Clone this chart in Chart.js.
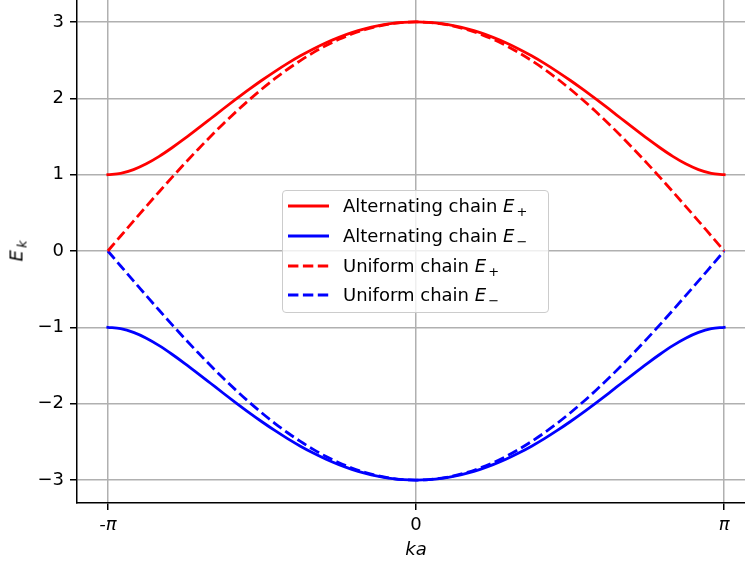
<!DOCTYPE html>
<html>
<head>
<meta charset="utf-8">
<script src="https://cdn.jsdelivr.net/npm/chart.js@4/dist/chart.umd.min.js"></script>
<style>
  html, body { margin: 0; padding: 0; background: #fff; }
  body { width: 745px; height: 567px; overflow: hidden; position: relative; font-family: 'DejaVu Sans', sans-serif; }
  #band { position: absolute; left: 0; top: -1px; }
  .ylab { position: absolute; left: 16px; top: 251px; transform: translate(-50%, -50%) rotate(-90deg); font-size: 18px; white-space: nowrap; }
  .legend { position: absolute; left: 282px; top: 190px; width: 265px; height: 121px; border: 1px solid #cccccc; border-radius: 4px; background: rgba(255,255,255,0.8); }
  .row { position: absolute; left: 0; height: 24px; font-size: 18px; line-height: 24px; white-space: nowrap; }
  .row svg { position: absolute; left: 5px; top: 10px; }
  .row span { position: absolute; left: 60px; top: 0; }
  sub { font-size: 13px; vertical-align: -4px; line-height: 0; margin-left: 2px; }
</style>
</head>
<body>
<canvas id="band" width="755" height="568"></canvas>
<div class="ylab"><i>E</i><sub><i>k</i></sub></div>
<div class="legend" id="legend"></div>
<script>
// ka in units of pi
var kaValues = [-1.0000, -0.9583, -0.9167, -0.8750, -0.8333, -0.7917, -0.7500, -0.7083, -0.6667, -0.6250, -0.5833, -0.5417,
  -0.5000, -0.4583, -0.4167, -0.3750, -0.3333, -0.2917, -0.2500, -0.2083, -0.1667, -0.1250, -0.0833, -0.0417,
  0.0000, 0.0417, 0.0833, 0.1250, 0.1667, 0.2083, 0.2500, 0.2917, 0.3333, 0.3750, 0.4167, 0.4583,
  0.5000, 0.5417, 0.5833, 0.6250, 0.6667, 0.7083, 0.7500, 0.7917, 0.8333, 0.8750, 0.9167, 0.9583, 1.0000];

var altUpper = [1.000, 1.017, 1.066, 1.142, 1.239, 1.352, 1.474, 1.602, 1.732, 1.863, 1.991, 2.116,
  2.236, 2.350, 2.457, 2.556, 2.646, 2.727, 2.798, 2.859, 2.909, 2.949, 2.977, 2.994,
  3.000, 2.994, 2.977, 2.949, 2.909, 2.859, 2.798, 2.727, 2.646, 2.556, 2.457, 2.350,
  2.236, 2.116, 1.991, 1.863, 1.732, 1.602, 1.474, 1.352, 1.239, 1.142, 1.066, 1.017, 1.000];
var altLower = [-1.000, -1.017, -1.066, -1.142, -1.239, -1.352, -1.474, -1.602, -1.732, -1.863, -1.991, -2.116,
  -2.236, -2.350, -2.457, -2.556, -2.646, -2.727, -2.798, -2.859, -2.909, -2.949, -2.977, -2.994,
  -3.000, -2.994, -2.977, -2.949, -2.909, -2.859, -2.798, -2.727, -2.646, -2.556, -2.457, -2.350,
  -2.236, -2.116, -1.991, -1.863, -1.732, -1.602, -1.474, -1.352, -1.239, -1.142, -1.066, -1.017, -1.000];
var uniUpper = [0.000, 0.196, 0.392, 0.585, 0.776, 0.964, 1.148, 1.327, 1.500, 1.667, 1.826, 1.978,
  2.121, 2.256, 2.380, 2.494, 2.598, 2.691, 2.772, 2.841, 2.898, 2.942, 2.974, 2.994,
  3.000, 2.994, 2.974, 2.942, 2.898, 2.841, 2.772, 2.691, 2.598, 2.494, 2.380, 2.256,
  2.121, 1.978, 1.826, 1.667, 1.500, 1.327, 1.148, 0.964, 0.776, 0.585, 0.392, 0.196, 0.000];
var uniLower = [0.000, -0.196, -0.392, -0.585, -0.776, -0.964, -1.148, -1.327, -1.500, -1.667, -1.826, -1.978,
  -2.121, -2.256, -2.380, -2.494, -2.598, -2.691, -2.772, -2.841, -2.898, -2.942, -2.974, -2.994,
  -3.000, -2.994, -2.974, -2.942, -2.898, -2.841, -2.772, -2.691, -2.598, -2.494, -2.380, -2.256,
  -2.121, -1.978, -1.826, -1.667, -1.500, -1.327, -1.148, -0.964, -0.776, -0.585, -0.392, -0.196, 0.000];

var xTicks = [-1, 0, 1];
var xTickLabels = ['-π', '0', 'π'];
var yTicks = [-3, -2, -1, 0, 1, 2, 3];

var seriesNames = ['Alternating chain', 'Alternating chain', 'Uniform chain', 'Uniform chain'];
var seriesSigns = ['+', '−', '+', '−'];
var seriesColors = ['#ff0000', '#0000ff', '#ff0000', '#0000ff'];
var seriesDashed = [false, false, true, true];
var seriesValues = [altUpper, altLower, uniUpper, uniLower];

var FONT = 'DejaVu Sans';
var DASH = [10.4, 4.5];

function points(vals) {
  return vals.map(function (v, i) { return { x: kaValues[i], y: v }; });
}

var datasets = seriesValues.map(function (vals, i) {
  return {
    label: seriesNames[i] + ' E' + seriesSigns[i],
    data: points(vals),
    borderColor: seriesColors[i],
    borderWidth: 2.8,
    borderDash: seriesDashed[i] ? DASH : [],
    borderCapStyle: seriesDashed[i] ? 'butt' : 'square',
    pointRadius: 0,
    fill: false,
    cubicInterpolationMode: 'monotone',
    order: seriesDashed[i] ? 0 : 1
  };
});

function noPad(s) {
  s.paddingTop = 0; s.paddingBottom = 0; s.paddingLeft = 0; s.paddingRight = 0;
}

new Chart(document.getElementById('band'), {
  type: 'line',
  data: { datasets: datasets },
  options: {
    responsive: false,
    animation: false,
    layout: { padding: 0 },
    plugins: { legend: { display: false }, tooltip: { enabled: false } },
    scales: {
      x: {
        type: 'linear',
        min: -1.1,
        max: 1.1,
        afterBuildTicks: function (s) { s.ticks = xTicks.map(function (v) { return { value: v }; }); },
        afterFit: function (s) { s.height = 64; noPad(s); },
        ticks: {
          color: '#000',
          padding: 5,
          maxRotation: 0,
          font: function (c) { return { family: FONT, size: 18, style: (c.tick && c.tick.value !== 0) ? 'italic' : 'normal' }; },
          callback: function (v) { return xTickLabels[xTicks.indexOf(v)]; }
        },
        grid: { color: '#b0b0b0', lineWidth: 1.5, tickColor: '#000', tickLength: 7, tickWidth: 1.5 },
        border: { display: true, color: '#000', width: 1.5 },
        title: { display: true, text: 'ka', color: '#000', font: { family: FONT, size: 18, style: 'italic' }, padding: { top: 0, bottom: 6 } }
      },
      y: {
        min: -3.3,
        max: 3.3,
        afterBuildTicks: function (s) { s.ticks = yTicks.map(function (v) { return { value: v }; }); },
        afterFit: function (s) { s.width = 77; noPad(s); },
        ticks: {
          color: '#000',
          padding: 6,
          font: { family: FONT, size: 18 },
          callback: function (v) { return v < 0 ? '\u2212' + Math.abs(v) : String(v); }
        },
        grid: { color: '#b0b0b0', lineWidth: 1.5, tickColor: '#000', tickLength: 7, tickWidth: 1.5 },
        border: { display: true, color: '#000', width: 1.5 }
      }
    }
  }
});

// legend inside the plot, matplotlib style
var legend = document.getElementById('legend');
var rowTops = [3, 33, 63, 92];
seriesNames.forEach(function (name, i) {
  var row = document.createElement('div');
  row.className = 'row';
  row.style.top = rowTops[i] + 'px';
  row.innerHTML =
    '<svg width="42" height="4"><line x1="0" y1="2" x2="41" y2="2" stroke="' + seriesColors[i] +
    '" stroke-width="2.8"' + (seriesDashed[i] ? ' stroke-dasharray="' + DASH.join(' ') + '"' : '') + '/></svg>' +
    '<span>' + name + ' <i>E</i><sub>' + seriesSigns[i] + '</sub></span>';
  legend.appendChild(row);
});
</script>
</body>
</html>
